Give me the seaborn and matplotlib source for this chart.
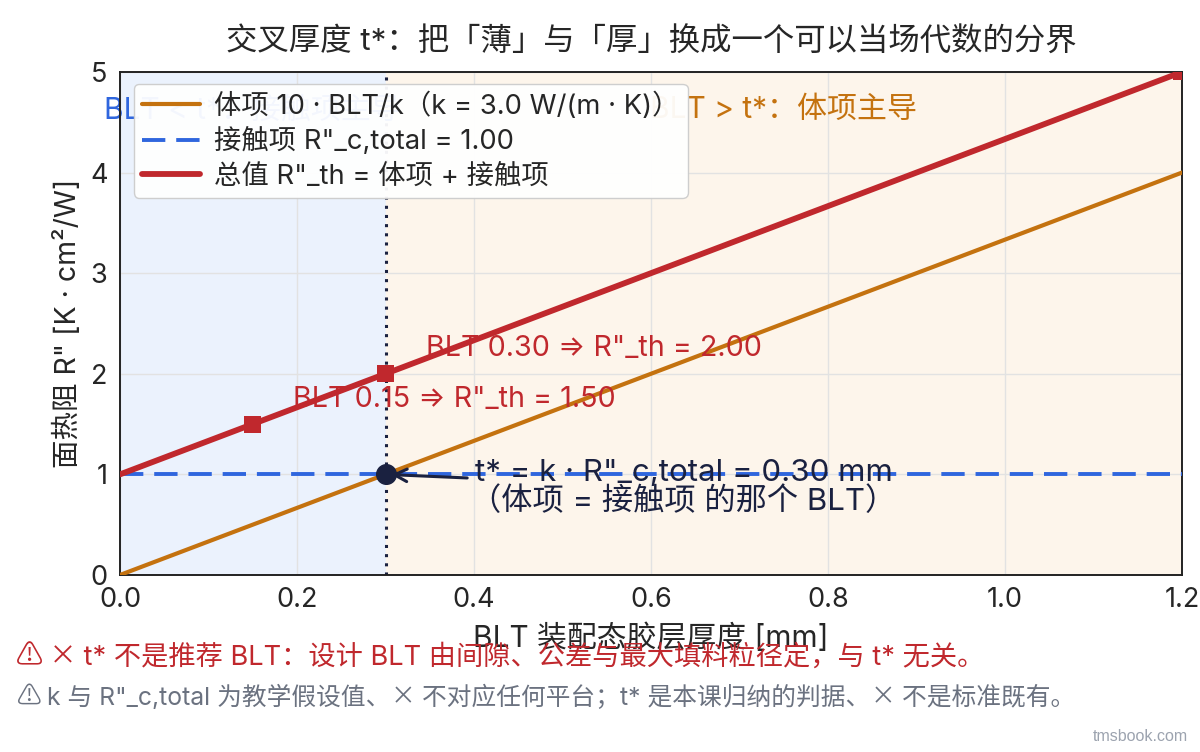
import matplotlib
matplotlib.use("Agg")
import matplotlib.pyplot as plt
import seaborn as sns

# 数据
blt = [0.0, 0.15, 0.30, 1.20]
bulk = [0.0, 0.5, 1.0, 4.0]
contact = [1.0, 1.0, 1.0, 1.0]
total = [1.0, 1.5, 2.0, 5.0]
mark_x = [0.15, 0.30, 1.20]
mark_y = [1.50, 2.00, 5.00]
t_star = 0.30
r_c = 1.0
x_ticks = [0.0, 0.2, 0.4, 0.6, 0.8, 1.0, 1.2]
y_ticks = [0, 1, 2, 3, 4, 5]

sns.set_theme(style="whitegrid")
INTER = ['Inter', 'Noto Sans CJK SC', 'DejaVu Sans']
CJK = ['Noto Sans CJK SC', 'DejaVu Sans']
plt.rcParams['font.family'] = INTER
plt.rcParams['axes.unicode_minus'] = False

BLUE = "#2F66DE"
ORANGE = "#C4720F"
RED = "#C0282D"
NAVY = "#1A2140"

fig = plt.figure(figsize=(12, 7.52), dpi=100)
ax = fig.add_axes([0.1, 0.2354, 0.885, 0.6689])

ax.axvspan(0, t_star, color="#EBF2FD", zorder=0)
ax.axvspan(t_star, 1.2, color="#FDF5EB", zorder=0)

sns.lineplot(x=blt, y=bulk, ax=ax, color=ORANGE, lw=3.0,
             label="体项 10 · BLT/k（k = 3.0 W/(m · K)）", zorder=3)
sns.lineplot(x=blt, y=contact, ax=ax, color=BLUE, lw=2.8, linestyle=(0, (6, 2.8)),
             label="接触项 R\"_c,total = 1.00", zorder=3)
sns.lineplot(x=blt, y=total, ax=ax, color=RED, lw=4.2,
             label="总值 R\"_th = 体项 + 接触项", zorder=4)
sns.scatterplot(x=mark_x, y=mark_y, ax=ax, color=RED, marker="s", s=150,
                edgecolor="none", zorder=5, legend=False)

ax.axvline(t_star, color=NAVY, lw=2.2, linestyle=(0, (1, 2)), zorder=2)
ax.scatter([t_star], [r_c], s=200, color=NAVY, zorder=6)

for x, y in zip(mark_x[:2], mark_y[:2]):
    ax.annotate(f"BLT {x:.2f} ⇒ R\"_th = {y:.2f}", xy=(x, y), xytext=(29, 18),
                textcoords="offset points", color=RED, fontsize=20.7,
                ha="left", va="center", zorder=5)

ax.annotate("t* = k · R\"_c,total = 0.30 mm\n（体项 = 接触项 的那个 BLT）",
            xy=(t_star, r_c), xytext=(0.396, 0.87), textcoords="data",
            ha="left", va="center", multialignment="center", fontsize=22.5, color=NAVY,
            linespacing=1.0,
            arrowprops=dict(arrowstyle="->", color=NAVY, lw=2.2, shrinkA=0, shrinkB=4),
            zorder=7)

ax.text(0.15, 4.62, "BLT < t*：接触项主导", color=BLUE, fontsize=21.6,
        ha="center", va="center", zorder=2)
ax.text(0.75, 4.62, "BLT > t*：体项主导", color=ORANGE, fontsize=21.6,
        ha="center", va="center", zorder=2)

ax.set_xlim(0, 1.2)
ax.set_ylim(0, 5)
ax.set_xticks(x_ticks)
ax.set_xticklabels([f"{v:.1f}" for v in x_ticks])
ax.set_yticks(y_ticks)
ax.tick_params(labelsize=19.5, length=5, width=1.2, color="#222222", pad=4)
ax.grid(True, color="#E2E2E2", lw=1.0)
for s in ax.spines.values():
    s.set_color("#222222")
    s.set_linewidth(1.4)

ax.set_xlabel("BLT 装配态胶层厚度 [mm]", fontsize=21.5, labelpad=7)
ax.set_ylabel("面热阻 R\" [K · cm²/W]", fontsize=20.5, labelpad=6)
ax.set_title("交叉厚度 t*：把「薄」与「厚」换成一个可以当场代数的分界", fontsize=22.6, pad=15)

leg = ax.legend(loc="upper left", bbox_to_anchor=(0.0, 1.004), fontsize=19.7,
                frameon=True, framealpha=0.95, facecolor="white", edgecolor="#CCCCCC",
                handlelength=2.1, handletextpad=0.5, borderpad=0.32, labelspacing=0.28)
leg.set_zorder(10)


def draw_parts(x, y, parts, color, size):
    # 逐段画文字，⚠ 与 × 用 CJK 字体
    renderer = fig.canvas.get_renderer()
    for txt, fam in parts:
        t = fig.text(x, y, txt, color=color, fontsize=size, va="center", family=fam)
        x += t.get_window_extent(renderer).width / fig.bbox.width


draw_parts(0.013, 0.126,
           [("⚠ ×", CJK), (" t* 不是推荐 BLT：设计 BLT 由间隙、公差与最大填料粒径定，与 t* 无关。", INTER)],
           RED, 19.6)
draw_parts(0.013, 0.073,
           [("⚠", CJK), (" k 与 R\"_c,total 为教学假设值、", INTER), ("×", CJK),
            (" 不对应任何平台；t* 是本课归纳的判据、", INTER), ("×", CJK), (" 不是标准既有。", INTER)],
           "#6B7280", 17.8)
fig.text(0.99, 0.02, "tmsbook.com", color="#9CA3AF", fontsize=11.5, ha="right", va="center",
         family=["Liberation Sans", "DejaVu Sans"])

fig.savefig("out.png", dpi=100)
